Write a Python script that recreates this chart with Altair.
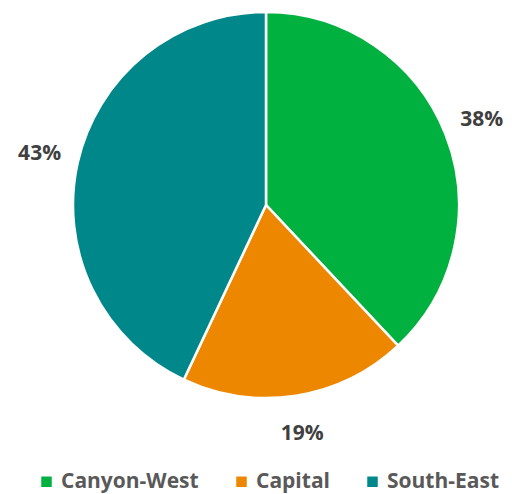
import altair as alt
import pandas as pd

regions = ["Canyon-West", "Capital", "South-East"]
shares = [38, 19, 43]
labels = ["38%", "19%", "43%"]
colors = ["#00B140", "#EE8700", "#00878A"]

df = pd.DataFrame({"region": regions, "share": shares, "label": labels, "order": [0, 1, 2]})

base = alt.Chart(df).encode(
    theta=alt.Theta("share:Q", stack=True),
    order=alt.Order("order:Q"),
)

pie = base.mark_arc(stroke="white", strokeWidth=2.5, x=258, y=197, outerRadius=193).encode(
    color=alt.Color(
        "region:N",
        sort=regions,
        scale=alt.Scale(domain=regions, range=colors),
        legend=alt.Legend(
            title=None,
            orient="none",
            direction="horizontal",
            legendX=28,
            legendY=463,
            symbolType="square",
            symbolSize=110,
            labelFont="Open Sans",
            labelFontWeight="bold",
            labelFontSize=21,
            labelColor="#595959",
            columnPadding=32,
            symbolStrokeWidth=0,
        ),
    )
)

text = base.mark_text(
    x=258, y=197, radius=232, font="Open Sans", fontWeight="bold", fontSize=21, color="#404040"
).encode(text="label:N")

chart = (
    alt.layer(pie, text)
    .properties(width=496, height=486, padding=0, autosize=alt.AutoSizeParams(type="none"))
    .configure_view(stroke=None)
)

chart.save("out.html", embed_options={"renderer": "svg", "actions": False})
